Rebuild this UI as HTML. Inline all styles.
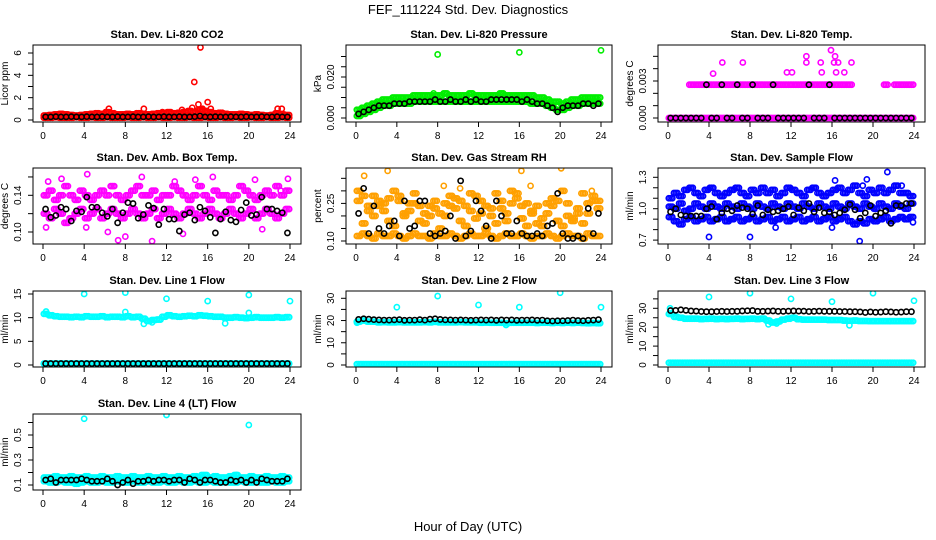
<!DOCTYPE html>
<html><head><meta charset="utf-8"><style>
html,body{margin:0;padding:0;background:#fff}
svg{display:block;font-family:"Liberation Sans",sans-serif}
</style></head><body>
<svg id="chart" width="936" height="540" viewBox="0 0 936 540">
<text x="468" y="14" text-anchor="middle" font-size="13">FEF_111224  Std. Dev. Diagnostics</text>
<text x="468" y="531" text-anchor="middle" font-size="13">Hour of Day (UTC)</text>
</svg>
<script>
const hours=[0.25,0.75,1.25,1.75,2.25,2.75,3.25,3.75,4.25,4.75,5.25,5.75,6.25,6.75,7.25,7.75,8.25,8.75,9.25,9.75,10.25,10.75,11.25,11.75,12.25,12.75,13.25,13.75,14.25,14.75,15.25,15.75,16.25,16.75,17.25,17.75,18.25,18.75,19.25,19.75,20.25,20.75,21.25,21.75,22.25,22.75,23.25,23.75];
const xTicks=[0,4,8,12,16,20,24];
const panelTitles=["Stan. Dev. Li-820 CO2","Stan. Dev. Li-820 Pressure","Stan. Dev. Li-820 Temp.","Stan. Dev. Amb. Box Temp.","Stan. Dev. Gas Stream RH","Stan. Dev. Sample Flow","Stan. Dev. Line 1 Flow","Stan. Dev. Line 2 Flow","Stan. Dev. Line 3 Flow","Stan. Dev. Line 4 (LT) Flow"];
const yTitles=["Licor ppm","kPa","degrees C","degrees C","percent","ml/min","ml/min","ml/min","ml/min","ml/min"];
const yTickVals=[[0,1,2,3,4,5,6],[0,0.005,0.01,0.015,0.02,0.025,0.03],[0,0.001,0.002,0.003,0.004,0.005],[0.10,0.12,0.14,0.16],[0.10,0.15,0.20,0.25,0.30,0.35],[0.7,0.8,0.9,1.0,1.1,1.2,1.3],[0,5,10,15],[0,5,10,15,20,25,30],[0,5,10,15,20,25,30,35],[0.1,0.2,0.3,0.4,0.5,0.6]];
const yTickLabels=[["0","","2","","4","","6"],["0.000","","","","0.020","",""],["0.000","","","0.003","",""],["0.10","","0.14",""],["0.10","","","0.25","",""],["0.7","","","1.0","","","1.3"],["0","5","10","15"],["0","","10","","20","","30"],["0","","10","","20","","30",""],["0.1","","0.3","","0.5",""]];
const colors=["#ff0000","#00ee00","#ff00ff","#ff00ff","#ffa000","#0000ff","#00ffff","#00ffff","#00ffff","#00ffff"];
const co2Hi=[0.4,0.45,0.5,0.55,0.5,0.45,0.4,0.45,0.5,0.55,0.6,0.55,0.7,0.6,0.5,0.5,0.55,0.5,0.6,0.55,0.5,0.55,0.6,0.65,0.7,0.6,0.65,0.7,0.8,0.7,0.9,0.8,0.7,0.6,0.65,0.55,0.5,0.5,0.55,0.5,0.45,0.5,0.45,0.4,0.45,0.6,0.5,0.45];
const co2Lo=[0.2,0.2,0.25,0.2,0.2,0.2,0.25,0.2,0.2,0.25,0.2,0.2,0.25,0.2,0.2,0.2,0.25,0.2,0.2,0.25,0.2,0.2,0.25,0.2,0.2,0.25,0.2,0.2,0.25,0.2,0.2,0.25,0.2,0.2,0.25,0.2,0.2,0.25,0.2,0.2,0.25,0.2,0.2,0.25,0.2,0.2,0.25,0.2];
const co2Blk=[0.28,0.28,0.3,0.28,0.28,0.3,0.28,0.28,0.3,0.28,0.28,0.3,0.28,0.28,0.3,0.28,0.28,0.3,0.28,0.28,0.3,0.28,0.28,0.3,0.28,0.28,0.3,0.28,0.28,0.3,0.35,0.28,0.28,0.3,0.28,0.28,0.3,0.28,0.28,0.3,0.28,0.28,0.3,0.28,0.28,0.3,0.28,0.28];
const co2OutX=[15.3,14.7,16,15.1,14.5,9.8,6.4,16.3,22.8,23.2,13.5,11.6,17.5,15.5];
const co2OutY=[6.5,3.4,1.6,1.4,1.1,1.0,1.0,1.0,1.0,1.0,0.9,0.7,0.6,1.0];
const presHi=[0.004,0.005,0.006,0.007,0.008,0.009,0.009,0.010,0.010,0.010,0.010,0.011,0.011,0.011,0.011,0.011,0.011,0.012,0.011,0.011,0.011,0.011,0.012,0.011,0.011,0.011,0.011,0.011,0.012,0.011,0.011,0.011,0.011,0.011,0.011,0.010,0.010,0.009,0.008,0.008,0.007,0.008,0.009,0.009,0.010,0.010,0.010,0.010];
const presLo=[0.001,0.002,0.003,0.004,0.005,0.006,0.006,0.007,0.007,0.007,0.007,0.008,0.008,0.008,0.008,0.008,0.008,0.008,0.008,0.008,0.008,0.008,0.008,0.008,0.008,0.008,0.008,0.008,0.008,0.008,0.008,0.008,0.008,0.008,0.007,0.007,0.007,0.006,0.005,0.004,0.004,0.005,0.006,0.006,0.007,0.007,0.007,0.007];
const presBlk=[0.002,0.003,0.004,0.005,0.006,0.006,0.006,0.007,0.007,0.007,0.008,0.008,0.008,0.008,0.008,0.009,0.008,0.008,0.009,0.008,0.008,0.009,0.008,0.009,0.008,0.008,0.009,0.009,0.009,0.009,0.009,0.009,0.008,0.009,0.008,0.007,0.007,0.006,0.005,0.003,0.005,0.006,0.006,0.006,0.007,0.007,0.006,0.007];
const presOutX=[8,16,24,7.6];
const presOutY=[0.031,0.032,0.033,0.012];
const tempZero=[0,0,0,0,0,0,0,0,0,0,0,0,0,0,0,0,0,0,0,0,0,0,0,0,0,0,0,0,0,0,0,0,0,0,0,0,0,0,0,0,0,0,0,0,0,0,0,0];
const tempStep=[null,null,null,null,0.0027,0.0027,0.0027,0.0027,0.0027,0.0027,0.0027,0.0027,0.0027,0.0027,0.0027,0.0027,0.0027,0.0027,0.0027,0.0027,0.0027,0.0027,0.0027,0.0027,0.0027,0.0027,0.0027,0.0027,0.0027,0.0027,0.0027,0.0027,0.0027,0.0027,0.0027,0.0027,null,null,null,null,null,null,0.0027,null,0.0027,0.0027,0.0027,0.0027];
const tempBlk=[0,0,0,0,0,0,0,0.0027,0,0,0.0027,0,0,0.0027,0,0,0.0027,0,0,0,0.0027,0,0,0,0,0,0,0.0027,0,0,0,0.0027,0,0,0,0,0,0,0,0,0,0,0,0,0,0,0,0];
const tempOutX=[4.4,5.3,7.3,11.6,12.1,13.5,13.5,14.9,15.0,15.9,16.3,16.2,16.6,16.4,17.2,17.9];
const tempOutY=[0.0036,0.0045,0.0045,0.0037,0.0037,0.005,0.0045,0.0045,0.0037,0.0055,0.005,0.0045,0.0045,0.0037,0.0037,0.0045];
const boxHi=[0.14,0.145,0.135,0.14,0.15,0.14,0.135,0.145,0.14,0.135,0.14,0.145,0.14,0.15,0.14,0.135,0.14,0.145,0.15,0.14,0.14,0.145,0.135,0.14,0.14,0.15,0.145,0.14,0.135,0.14,0.15,0.14,0.135,0.145,0.14,0.14,0.135,0.14,0.15,0.145,0.14,0.135,0.14,0.145,0.14,0.15,0.14,0.145];
const boxLo=[0.12,0.115,0.125,0.12,0.11,0.115,0.12,0.125,0.115,0.12,0.125,0.115,0.12,0.125,0.12,0.115,0.12,0.125,0.12,0.115,0.12,0.125,0.115,0.12,0.125,0.12,0.115,0.12,0.125,0.12,0.115,0.12,0.125,0.12,0.115,0.12,0.125,0.12,0.115,0.12,0.125,0.115,0.12,0.125,0.12,0.115,0.12,0.125];
const boxBlk=[0.125,0.116,0.118,0.127,0.125,0.112,0.123,0.122,0.138,0.127,0.127,0.121,0.117,0.125,0.110,0.121,0.132,0.131,0.115,0.119,0.129,0.126,0.108,0.125,0.114,0.114,0.101,0.119,0.121,0.113,0.127,0.123,0.116,0.099,0.114,0.122,0.113,0.111,0.124,0.132,0.118,0.119,0.138,0.125,0.125,0.123,0.121,0.099];
const boxOutX=[0.5,1.8,4.3,9.6,12.8,14.8,16.5,20.6,23.1,0.3,4.2,6.3,8.0,10.6,13.6,21.3,23.8,7.3];
const boxOutY=[0.155,0.158,0.163,0.160,0.155,0.157,0.160,0.157,0.145,0.105,0.105,0.100,0.095,0.090,0.098,0.103,0.158,0.091];
const rhBand=[0.12,0.13,0.12,0.11,0.13,0.12,0.12,0.13,0.12,0.11,0.12,0.13,0.12,0.12,0.11,0.13,0.12,0.12,0.13,0.12,0.11,0.12,0.13,0.12,0.12,0.13,0.12,0.11,0.12,0.13,0.12,0.12,0.13,0.12,0.11,0.12,0.12,0.13,0.12,0.11,0.12,0.13,0.12,0.12,0.11,0.13,0.12,0.12];
const rhMid=[0.26,0.17,0.22,0.20,0.24,0.22,0.18,0.16,0.26,0.20,0.22,0.25,0.18,0.21,0.20,0.23,0.15,0.20,0.24,0.27,0.18,0.16,0.22,0.19,0.26,0.15,0.20,0.17,0.23,0.21,0.25,0.27,0.19,0.16,0.22,0.24,0.16,0.21,0.24,0.18,0.16,0.20,0.19,0.23,0.17,0.21,0.26,0.23];
const rhHi=[0.30,0.28,0.24,0.28,0.26,0.25,0.27,0.30,0.28,0.21,0.25,0.29,0.24,0.17,0.24,0.26,0.21,0.25,0.28,0.23,0.26,0.24,0.29,0.28,0.21,0.24,0.23,0.29,0.26,0.18,0.30,0.29,0.24,0.25,0.21,0.17,0.19,0.25,0.27,0.26,0.30,0.25,0.18,0.21,0.29,0.25,0.28,0.26];
const rhBlk=[0.21,0.31,0.13,0.24,0.15,0.13,0.16,0.18,0.12,0.26,0.15,0.16,0.26,0.26,0.13,0.12,0.13,0.14,0.20,0.11,0.34,0.12,0.14,0.26,0.22,0.16,0.11,0.26,0.20,0.13,0.13,0.18,0.13,0.12,0.12,0.13,0.12,0.16,0.17,0.29,0.13,0.11,0.11,0.12,0.11,0.23,0.13,0.21];
const rhOutX=[0.8,3.1,8.6,16.2,20.1,17.1,23.1,10.2];
const rhOutY=[0.36,0.38,0.32,0.38,0.39,0.32,0.30,0.31];
const flowHi=[1.10,1.15,1.12,1.18,1.20,1.15,1.12,1.18,1.20,1.15,1.12,1.15,1.18,1.20,1.15,1.12,1.18,1.15,1.20,1.15,1.18,1.12,1.15,1.20,1.18,1.15,1.12,1.18,1.20,1.15,1.12,1.15,1.18,1.20,1.15,1.18,1.22,1.15,1.12,1.18,1.15,1.20,1.15,1.18,1.22,1.15,1.15,1.12];
const flowLo=[0.92,0.88,0.85,0.90,0.92,0.88,0.90,0.92,0.88,0.90,0.92,0.88,0.90,0.92,0.88,0.90,0.92,0.88,0.90,0.92,0.88,0.90,0.92,0.88,0.90,0.92,0.88,0.90,0.92,0.88,0.90,0.92,0.88,0.90,0.92,0.88,0.85,0.88,0.86,0.90,0.88,0.90,0.92,0.88,0.90,0.92,0.90,0.92];
const flowMid=[1.02,1.0,1.05,0.98,1.0,1.05,1.02,1.0,1.05,1.02,1.0,1.05,1.02,1.0,1.05,1.02,1.0,1.05,1.02,1.0,1.05,1.02,1.0,1.05,1.02,1.0,1.05,1.02,1.0,1.05,1.02,1.0,1.05,1.02,1.0,1.05,1.02,1.0,1.05,1.02,1.0,1.05,1.02,1.0,1.05,1.02,1.0,1.05];
const flowBlk=[0.97,1.00,0.94,0.93,0.93,0.93,0.93,1.00,1.02,0.90,0.96,1.00,0.98,1.03,1.01,1.00,0.95,1.03,0.94,0.99,0.97,0.98,1.00,1.02,0.94,1.01,0.98,1.05,0.97,1.01,0.96,0.97,0.94,0.96,0.99,1.04,0.99,0.91,0.96,1.03,0.93,0.96,0.98,0.86,1.03,1.03,1.05,1.05];
const flowOutX=[4.0,8.0,10.5,16.0,16.3,18.7,19.4,19.0,21.4,22.8,23.9];
const flowOutY=[0.73,0.73,0.82,0.82,1.27,0.69,1.28,1.22,1.35,1.22,0.87];
const l1Hi=[10.8,10.5,10.3,10.2,10.2,10.1,10.2,10.1,10.3,10.2,10.2,10.3,10.1,10.2,10.2,10.1,10.3,10.1,10.2,9.8,9.3,9.5,9.6,10.2,10.5,10.3,10.2,10.3,10.4,10.3,10.5,10.4,10.3,10.2,10.2,10.0,10.0,10.1,10.0,9.9,10.0,10.1,10.0,10.0,10.0,10.1,10.0,10.1];
const l1Lo=[0.3,0.3,0.3,0.3,0.3,0.3,0.3,0.3,0.3,0.3,0.3,0.3,0.3,0.3,0.3,0.3,0.3,0.3,0.3,0.3,0.3,0.3,0.3,0.3,0.3,0.3,0.3,0.3,0.3,0.3,0.3,0.3,0.3,0.3,0.3,0.3,0.3,0.3,0.3,0.3,0.3,0.3,0.3,0.3,0.3,0.3,0.3,0.3];
const l1Blk=[0.3,0.3,0.3,0.3,0.3,0.3,0.3,0.3,0.3,0.3,0.3,0.3,0.3,0.3,0.3,0.3,0.3,0.3,0.3,0.3,0.3,0.3,0.3,0.3,0.3,0.3,0.3,0.3,0.3,0.3,0.3,0.3,0.3,0.3,0.3,0.3,0.3,0.3,0.3,0.3,0.3,0.3,0.3,0.3,0.3,0.3,0.3,0.3];
const l1OutX=[4,8,12,16,20,24,0.3,8,9.8,10.6,17.7,20];
const l1OutY=[15.0,15.3,14.0,13.5,14.8,13.5,11.3,11.2,8.7,9.0,8.8,11.0];
const l2Hi=[19.5,20,19.5,19.5,19.2,19.3,19.2,19.2,19.3,19.2,19.2,19.2,19.2,19.3,19.2,19.4,19.2,19.2,19.2,19.2,19.3,19.2,19.2,19.2,19.0,19.1,19.0,19.0,19.0,18.8,19.0,19.0,19.0,19.0,19.0,18.9,19.0,19.0,18.9,19.0,18.9,19.0,18.9,19.0,18.9,18.8,18.9,18.8];
const l2Lo=[0.4,0.4,0.4,0.4,0.4,0.4,0.4,0.4,0.4,0.4,0.4,0.4,0.4,0.4,0.4,0.4,0.4,0.4,0.4,0.4,0.4,0.4,0.4,0.4,0.4,0.4,0.4,0.4,0.4,0.4,0.4,0.4,0.4,0.4,0.4,0.4,0.4,0.4,0.4,0.4,0.4,0.4,0.4,0.4,0.4,0.4,0.4,0.4];
const l2Blk=[20.5,20.8,20.6,20.4,20.3,20.2,20.2,20.3,20.4,20.1,20.2,20.2,20.4,20.2,20.6,20.8,20.5,20.3,20.3,20.2,20.3,20.2,20.1,20.2,20.3,20.2,20.3,20.1,20.3,20.2,20.3,20.1,20.2,20.2,20.3,20.1,20.2,19.9,19.8,19.9,19.9,20.0,20.2,20.0,19.9,20.1,20.2,20.4];
const l2OutX=[4,8,12,16,20,24,0.1,14.7];
const l2OutY=[26,31,27,26,32.5,26,19,18];
const l3Hi=[27,25.5,25,24.5,24.5,24.5,24.3,24.4,24.5,24.3,24.4,24.3,24.4,24.5,24.3,24.4,24.5,24.3,24.5,23.5,22.5,23,24,24.5,25,24.2,24,24,24,24,24,23.8,23.8,23.8,23.5,23.4,23.5,23.3,23.3,23.2,23.2,23.2,23.2,23.2,23.2,23.2,23.2,23.2];
const l3Lo=[1.2,1.2,1.2,1.2,1.2,1.2,1.2,1.2,1.2,1.2,1.2,1.2,1.2,1.2,1.2,1.2,1.2,1.2,1.2,1.2,1.2,1.2,1.2,1.2,1.2,1.2,1.2,1.2,1.2,1.2,1.2,1.2,1.2,1.2,1.2,1.2,1.2,1.2,1.2,1.2,1.2,1.2,1.2,1.2,1.2,1.2,1.2,1.2];
const l3Blk=[28.8,28.9,29.2,28.9,28.6,28.5,28.3,28.2,28.2,28.3,28.4,28.3,28.4,28.4,28.6,28.7,28.8,28.4,28.4,28.5,28.6,28.4,28.4,28.5,28.6,28.5,28.5,28.3,28.4,28.5,28.4,28.4,28.4,28.3,28.3,28.2,28.2,28.1,27.8,28.1,27.9,28.0,28.2,28.1,27.9,28.0,28.2,28.2];
const l3OutX=[4,8,12,16,20,24,0.2,17.7,9.8,10.6];
const l3OutY=[36,38,35,33.5,38,34,30,21,21.5,22];
const l4Hi=[0.16,0.16,0.17,0.16,0.16,0.17,0.16,0.16,0.17,0.16,0.16,0.17,0.16,0.16,0.17,0.16,0.16,0.17,0.16,0.16,0.17,0.16,0.16,0.17,0.16,0.16,0.17,0.16,0.16,0.17,0.16,0.18,0.16,0.17,0.16,0.16,0.17,0.18,0.16,0.16,0.17,0.16,0.16,0.17,0.16,0.16,0.17,0.16];
const l4Lo=[0.13,0.12,0.12,0.13,0.12,0.12,0.11,0.12,0.13,0.12,0.12,0.13,0.12,0.12,0.13,0.12,0.12,0.13,0.12,0.12,0.13,0.12,0.12,0.13,0.12,0.12,0.13,0.12,0.12,0.13,0.12,0.12,0.13,0.12,0.12,0.13,0.12,0.12,0.13,0.12,0.12,0.13,0.12,0.12,0.13,0.12,0.12,0.13];
const l4Blk=[0.14,0.15,0.12,0.14,0.14,0.14,0.14,0.15,0.14,0.13,0.13,0.13,0.15,0.13,0.10,0.12,0.14,0.11,0.13,0.13,0.14,0.13,0.14,0.14,0.13,0.14,0.14,0.12,0.15,0.14,0.12,0.14,0.14,0.13,0.12,0.12,0.14,0.13,0.14,0.12,0.14,0.12,0.15,0.14,0.13,0.13,0.13,0.15];
const l4OutX=[4,12,20,15.4,18.8];
const l4OutY=[0.63,0.66,0.58,0.18,0.18];

const panelClouds=[[co2Hi,co2Lo],[presHi,presLo],[tempZero,tempStep],[boxHi,boxLo],[rhBand,rhMid,rhHi],[flowHi,flowLo,flowMid],[l1Hi,l1Lo],[l2Hi,l2Lo],[l3Hi,l3Lo],[l4Hi,l4Lo]];
const panelBlack=[co2Blk,presBlk,tempBlk,boxBlk,rhBlk,flowBlk,l1Blk,l2Blk,l3Blk,l4Blk];
const panelOutX=[co2OutX,presOutX,tempOutX,boxOutX,rhOutX,flowOutX,l1OutX,l2OutX,l3OutX,l4OutX];
const panelOutY=[co2OutY,presOutY,tempOutY,boxOutY,rhOutY,flowOutY,l1OutY,l2OutY,l3OutY,l4OutY];
const yCal=[[0,120,6,53],[0,118,0.02,77],[0,118,0.003,81],[0.10,232,0.14,195.3],[0.10,241,0.25,203.4],[1.0,208.7,1.3,177.3],[0,365,15,294],[0,365,30,298.3],[0,365,30,308.3],[0.1,485,0.5,435]];

const NS='http://www.w3.org/2000/svg';
const svg=document.getElementById('chart');
const colL=[33,346,658],colR=[301,612,925],rowT=[45,168,291,414],rowB=[122,244,367,490];
function mk(tag,attrs,parent){const e=document.createElementNS(NS,tag);for(const k in attrs)e.setAttribute(k,attrs[k]);parent.appendChild(e);return e;}

for(let p=0;p<10;p++){
  const r=Math.floor(p/3),c=p%3;
  const L=colL[c],R=colR[c],T=rowT[r],B=rowB[r];
  const xs=h=>L+10+h/24*(R-L-21);
  const cal=yCal[p];
  const ys=v=>cal[1]+(v-cal[0])*(cal[3]-cal[1])/(cal[2]-cal[0]);
  const g=mk('g',{},svg);
  
  
  const cp=mk('clipPath',{id:'cp'+p},g);
  mk('rect',{x:L,y:T,width:R-L,height:B-T},cp);
  const t=mk('text',{x:(L+R)/2,y:T-7,'text-anchor':'middle','font-size':'11','font-weight':'bold'},g);
  t.textContent=panelTitles[p];
  
  
  const yt=mk('text',{x:L-25,y:(T+B)/2,'text-anchor':'middle','font-size':'10',transform:`rotate(-90 ${L-25} ${(T+B)/2})`},g);
  yt.textContent=yTitles[p];
  
  
  const pts=mk('g',{'clip-path':`url(#cp${p})`,fill:'none','stroke-width':'1.6'},g);
  
  
  panelClouds[p].forEach(arr=>{
    arr.forEach((v,i)=>{
      if(v===null)return;
      [-0.17,0,0.17].forEach(d=>{
        const ci=mk('circle',{cx:xs(hours[i]+d),cy:ys(v),r:2.6,stroke:colors[p]},pts);
        
        
      });
    });
  });
  panelOutX[p].forEach((x,i)=>{
    const ci=mk('circle',{cx:xs(x),cy:ys(panelOutY[p][i]),r:2.6,stroke:colors[p]},pts);
    
    
  });
  panelBlack[p].forEach((v,i)=>{
    const ci=mk('circle',{cx:xs(hours[i]),cy:ys(v),r:2.6,stroke:'#000'},pts);
    
    
  });
  const bx=mk('rect',{x:L,y:T,width:R-L,height:B-T,fill:'none',stroke:'#000','stroke-width':'1'},g);
  
  
  const xa=mk('g',{stroke:'#000','stroke-width':'1'},g);
  
  
  mk('line',{x1:xs(xTicks[0]),x2:xs(xTicks[xTicks.length-1]),y1:B,y2:B},xa);
  xTicks.forEach(v=>{
    mk('line',{x1:xs(v),x2:xs(v),y1:B,y2:B+5},xa);
    const tl=mk('text',{x:xs(v),y:B+17,'text-anchor':'middle','font-size':'10',stroke:'none',fill:'#000'},g);
    tl.textContent=String(v);
    
    
  });
  const ya=mk('g',{stroke:'#000','stroke-width':'1'},g);
  
  
  const tv=yTickVals[p];
  mk('line',{x1:L,x2:L,y1:ys(tv[0]),y2:ys(tv[tv.length-1])},ya);
  tv.forEach((v,i)=>{
    mk('line',{x1:L,x2:L-5,y1:ys(v),y2:ys(v)},ya);
    const lab=yTickLabels[p][i];
    if(lab){
      const tx=L-12,ty=ys(v);
      const tl=mk('text',{x:tx,y:ty,'text-anchor':'middle','font-size':'10',transform:`rotate(-90 ${tx} ${ty})`},g);
      tl.textContent=lab;
      
      
    }
  });
}
</script>
</body></html>
